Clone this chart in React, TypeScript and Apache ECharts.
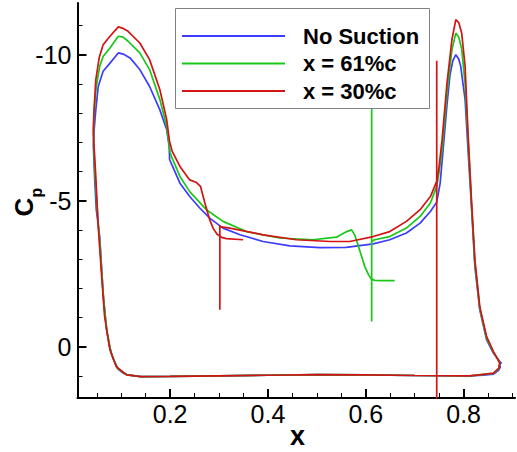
import React, { useEffect, useRef } from "react";
import * as echarts from "echarts";

type Pt = [number, number];

// ---------- data ----------
const seriesNames = ["No Suction", "x = 61%c", "x = 30%c"];
const seriesColors = ["#3c3cff", "#18c818", "#d21414"];

// No suction: closed loop (upper LE -> TE, then lower TE -> LE)
const noSuction: Pt[] = [
  [0.043, -6.9], [0.044, -7.3], [0.048, -8.11], [0.053, -8.91], [0.063, -9.43], [0.077, -9.71],
  [0.094, -10.06], [0.104, -10.02], [0.118, -9.89], [0.138, -9.49], [0.158, -8.91],
  [0.179, -8.11], [0.193, -7.43], [0.198, -6.86], [0.199, -6.4], [0.203, -6.25],
  [0.22, -5.6], [0.24, -5.14], [0.261, -4.74], [0.281, -4.4], [0.308, -4.06],
  [0.343, -3.83], [0.39, -3.6], [0.445, -3.45], [0.506, -3.39], [0.56, -3.4],
  [0.615, -3.52], [0.649, -3.66], [0.683, -3.89], [0.711, -4.23], [0.732, -4.63],
  [0.745, -4.95], [0.752, -5.6], [0.758, -6.74], [0.766, -8.3], [0.772, -9.3],
  [0.778, -9.8], [0.784, -10.0], [0.79, -9.85], [0.794, -9.6], [0.803, -8.46],
  [0.809, -6.74], [0.816, -4.8], [0.823, -2.74], [0.833, -1.26], [0.847, -0.23],
  [0.861, 0.23], [0.874, 0.51], [0.877, 0.56], [0.873, 0.62], [0.875, 0.7],
  [0.872, 0.8], [0.861, 0.94], [0.84, 0.98], [0.813, 1.0], [0.7, 0.99], [0.6, 0.97],
  [0.5, 0.96], [0.4, 0.98], [0.3, 1.0], [0.2, 1.02], [0.14, 1.03], [0.114, 0.97],
  [0.104, 0.91], [0.094, 0.78], [0.083, 0.4], [0.076, 0.0], [0.07, -0.57],
  [0.063, -1.83], [0.056, -3.76], [0.049, -4.69], [0.0455, -5.83], [0.043, -6.9],
];

// Suction at 61%c
const s61Upstream: Pt[] = [
  [0.043, -7.3], [0.045, -8.1], [0.049, -8.91], [0.056, -9.6], [0.063, -9.94],
  [0.077, -10.23], [0.094, -10.63], [0.104, -10.6], [0.114, -10.46], [0.138, -10.06],
  [0.158, -9.49], [0.179, -8.46], [0.193, -7.54], [0.198, -6.9], [0.2, -6.65],
  [0.203, -6.5], [0.22, -5.83], [0.24, -5.31], [0.274, -4.69], [0.308, -4.29],
  [0.356, -3.94], [0.424, -3.72], [0.492, -3.66], [0.54, -3.75], [0.561, -3.94],
  [0.571, -4.0], [0.578, -3.8], [0.585, -3.43], [0.598, -2.74], [0.606, -2.45],
  [0.611, -2.32], [0.618, -2.27], [0.63, -2.26], [0.659, -2.26],
];
const s61Slot: Pt[] = [[0.612, -8.3], [0.612, -0.86]];
const s61Downstream: Pt[] = [
  [0.612, -3.6], [0.618, -3.66], [0.649, -3.77], [0.683, -4.06], [0.711, -4.46],
  [0.732, -4.92], [0.745, -5.49], [0.75, -6.0], [0.756, -6.74], [0.766, -8.69],
  [0.776, -10.17], [0.784, -10.74], [0.79, -10.6], [0.796, -10.2], [0.803, -9.0],
  [0.809, -7.1], [0.816, -4.9], [0.823, -2.85], [0.833, -1.3], [0.847, -0.28],
  [0.861, 0.2], [0.874, 0.54], [0.872, 0.76], [0.861, 0.92], [0.813, 1.0],
  [0.7, 0.99], [0.6, 0.97], [0.5, 0.96], [0.4, 0.98], [0.3, 1.0], [0.2, 1.02],
  [0.14, 1.03], [0.112, 0.97], [0.092, 0.74], [0.08, 0.25], [0.071, -0.5],
  [0.064, -1.6], [0.057, -3.4], [0.05, -4.9], [0.046, -6.0], [0.043, -7.3],
];

// Suction at 30%c
const s30Upstream: Pt[] = [
  [0.043, -7.4], [0.044, -8.0], [0.048, -9.14], [0.055, -9.9], [0.063, -10.34],
  [0.077, -10.63], [0.094, -10.95], [0.104, -10.9], [0.114, -10.8], [0.138, -10.4],
  [0.158, -9.83], [0.179, -8.8], [0.193, -7.77], [0.199, -7.0], [0.201, -6.9],
  [0.204, -6.7], [0.22, -6.17], [0.24, -5.71], [0.254, -5.62], [0.262, -5.49],
  [0.271, -4.92], [0.281, -4.34], [0.288, -4.05], [0.296, -3.85], [0.305, -3.74],
  [0.315, -3.7], [0.349, -3.66],
];
const s30Slot: Pt[] = [[0.3016, -4.17], [0.3016, -1.26]];
const s30Downstream: Pt[] = [
  [0.3016, -4.11], [0.322, -4.06], [0.39, -3.83], [0.458, -3.66], [0.527, -3.6],
  [0.567, -3.6], [0.615, -3.77], [0.649, -3.94], [0.683, -4.29], [0.711, -4.69],
  [0.732, -5.14], [0.745, -5.66], [0.75, -6.2], [0.756, -7.09], [0.766, -9.03],
  [0.776, -10.51], [0.784, -11.2], [0.79, -11.1], [0.796, -10.74], [0.803, -9.6],
  [0.809, -7.31], [0.816, -5.03], [0.823, -2.97], [0.833, -1.37], [0.847, -0.34],
  [0.861, 0.17], [0.874, 0.57], [0.872, 0.74], [0.861, 0.91], [0.813, 1.0],
  [0.7, 0.99], [0.6, 0.97], [0.5, 0.96], [0.4, 0.98], [0.3, 1.0], [0.2, 1.02],
  [0.14, 1.03], [0.111, 0.97], [0.09, 0.69], [0.077, 0.11], [0.066, -1.03],
  [0.06, -2.4], [0.053, -4.11], [0.048, -5.83], [0.044, -7.0], [0.043, -7.4],
];
const s30TeSlot: Pt[] = [[0.745, -9.79], [0.745, 2.2]];

const xLabelValues = [0.2, 0.4, 0.6, 0.8];
const xMinorValues = [0.05, 0.1, 0.15, 0.25, 0.3, 0.35, 0.45, 0.5, 0.55, 0.65, 0.7, 0.75, 0.85, 0.9];
const yLabelValues = [-10, -5, 0];
const yMinorValues = [-11, -9, -8, -7, -6, -4, -3, -2, -1, 1];

const X_MIN = 0.0106;
const X_MAX = 0.905;
const Y_MIN = -11.77;
const Y_MAX = 1.76;

const FONT = "'Liberation Sans', Arial, Helvetica, sans-serif";

export default function App() {
  const ref = useRef<HTMLDivElement>(null);

  useEffect(() => {
    const chart = echarts.init(ref.current!, null, { renderer: "svg" });

    const mk = (nameIdx: number, data: Pt[]) => ({
      type: "line",
      name: seriesNames[nameIdx],
      data,
      xAxisIndex: 0,
      yAxisIndex: 0,
      showSymbol: false,
      symbol: "none",
      clip: true,
      color: seriesColors[nameIdx],
      lineStyle: { color: seriesColors[nameIdx], width: 1.7 },
      emphasis: { disabled: true },
      silent: true,
    });

    const option: any = {
      animation: false,
      backgroundColor: "#ffffff",
      textStyle: { fontFamily: FONT },
      grid: { left: 77.5, right: 2, top: 3, bottom: 54, containLabel: false, outerBoundsMode: "none" },
      xAxis: [
        {
          type: "value",
          position: "bottom",
          min: X_MIN,
          max: X_MAX,
          axisLine: { show: true, onZero: false, lineStyle: { color: "#000", width: 2 } },
          axisTick: { show: true, inside: true, length: 9, lineStyle: { color: "#000", width: 2 }, customValues: xLabelValues },
          axisLabel: { show: true, customValues: xLabelValues, fontSize: 25, color: "#000", margin: 3, fontFamily: FONT },
          splitLine: { show: false },
        },
        {
          type: "value",
          position: "bottom",
          offset: 0,
          min: X_MIN,
          max: X_MAX,
          axisLine: { show: false, onZero: false },
          axisTick: { show: true, inside: true, length: 5, lineStyle: { color: "#000", width: 1 }, customValues: xMinorValues },
          axisLabel: { show: false },
          splitLine: { show: false },
        },
      ],
      yAxis: [
        {
          type: "value",
          position: "left",
          inverse: true,
          min: Y_MIN,
          max: Y_MAX,
          axisLine: { show: true, onZero: false, lineStyle: { color: "#000", width: 2 } },
          axisTick: { show: true, inside: true, length: 9, lineStyle: { color: "#000", width: 2 }, customValues: yLabelValues },
          axisLabel: { show: true, customValues: yLabelValues, fontSize: 25, color: "#000", margin: 6, fontFamily: FONT },
          splitLine: { show: false },
        },
        {
          type: "value",
          position: "left",
          offset: 0,
          inverse: true,
          min: Y_MIN,
          max: Y_MAX,
          axisLine: { show: false, onZero: false },
          axisTick: { show: true, inside: true, length: 5, lineStyle: { color: "#000", width: 1 }, customValues: yMinorValues },
          axisLabel: { show: false },
          splitLine: { show: false },
        },
      ],
      legend: {
        show: true,
        data: seriesNames,
        orient: "vertical",
        left: 182,
        top: 25,
        padding: 0,
        itemGap: 5.5,
        itemWidth: 103,
        itemHeight: 2,
        icon: "rect",
        selectedMode: false,
        z: 20,
        textStyle: { fontSize: 22, fontWeight: "bold", color: "#000", fontFamily: FONT, padding: [0, 0, 0, 13] },
      },
      graphic: [
        {
          type: "rect",
          z: 10,
          shape: { x: 175.5, y: 8.5, width: 254, height: 100 },
          style: { fill: "#ffffff", stroke: "#808080", lineWidth: 1 },
          silent: true,
        },
        {
          type: "text",
          x: 297.5,
          y: 435.5,
          z: 10,
          style: { text: "x", font: `bold 27px ${FONT}`, fill: "#000", align: "center", verticalAlign: "middle" },
        },
        {
          type: "text",
          x: 23.5,
          y: 207,
          rotation: Math.PI / 2,
          z: 10,
          style: { text: "C", font: `bold 26px ${FONT}`, fill: "#000", align: "center", verticalAlign: "middle" },
        },
        {
          type: "text",
          x: 36,
          y: 192.5,
          rotation: Math.PI / 2,
          z: 10,
          style: { text: "p", font: `bold 16px ${FONT}`, fill: "#000", align: "center", verticalAlign: "middle" },
        },
      ],
      series: [
        mk(0, noSuction),
        mk(1, s61Upstream),
        mk(1, s61Slot),
        mk(1, s61Downstream),
        mk(2, s30Upstream),
        mk(2, s30Slot),
        mk(2, s30Downstream),
        mk(2, s30TeSlot),
      ],
    };

    chart.setOption(option);
    return () => chart.dispose();
  }, []);

  return (
    <div
      ref={ref}
      style={{ position: "fixed", left: 0, top: 0, width: 517, height: 452 }}
    />
  );
}
